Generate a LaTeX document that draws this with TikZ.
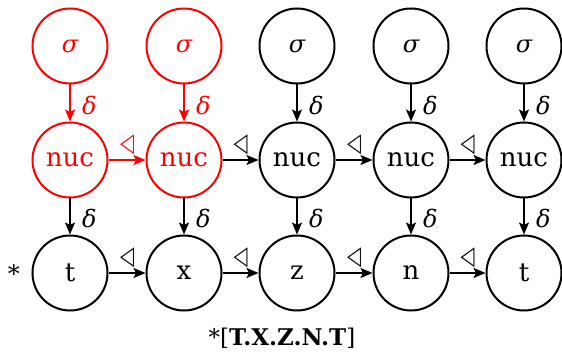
\documentclass[tikz,border=0pt]{standalone}
\usepackage{fontspec}
\setmainfont{DejaVu Serif}
\newfontfamily\symf{DejaVu Sans}
\usetikzlibrary{arrows.meta}
\definecolor{hred}{RGB}{255,0,0}
\newcommand{\tri}{\scalebox{0.7}[1]{\symf ◁}}
\tikzset{
  x=1pt,y=-1pt,
  circ/.style={circle,draw,line width=2pt,minimum size=75pt,inner sep=0pt,font=\fontsize{26}{30}\selectfont},
  sig/.style={font=\fontsize{24}{28}\selectfont\itshape},
  conn/.style={line width=2pt,-{Stealth[length=12pt,width=10pt,inset=2.5pt]}},
  dlab/.style={font=\fontsize{24}{28}\selectfont\itshape,inner sep=0pt,anchor=west,xshift=11pt,yshift=-2pt},
  tlab/.style={font=\fontsize{26}{30}\selectfont,inner sep=0pt,anchor=center,yshift=15pt},
  hl/.style={draw=hred,text=hred}
}
\begin{document}
\begin{tikzpicture}
\useasboundingbox (0,0) rectangle (562,352);
\def\ya{46}\def\yb{160}\def\yc{273}
\node[circ,sig,hl] (s1) at (70,\ya) {σ};
\node[circ,sig,hl] (s2) at (184,\ya) {σ};
\node[circ,sig] (s3) at (297,\ya) {σ};
\node[circ,sig] (s4) at (411,\ya) {σ};
\node[circ,sig] (s5) at (524,\ya) {σ};
\node[circ,hl] (n1) at (70,\yb) {nuc};
\node[circ,hl] (n2) at (184,\yb) {nuc};
\node[circ] (n3) at (297,\yb) {nuc};
\node[circ] (n4) at (411,\yb) {nuc};
\node[circ] (n5) at (524,\yb) {nuc};
\node[circ] (b1) at (70,\yc) {t};
\node[circ] (b2) at (184,\yc) {x};
\node[circ] (b3) at (297,\yc) {z};
\node[circ] (b4) at (411,\yc) {n};
\node[circ] (b5) at (524,\yc) {t};
% vertical arrows sigma -> nuc
\draw[conn,hred] (s1) -- node[dlab,text=hred]{δ} (n1);
\draw[conn,hred] (s2) -- node[dlab,text=hred]{δ} (n2);
\foreach \i in {3,4,5}{
  \draw[conn] (s\i) -- node[dlab]{δ} (n\i);
}
% vertical arrows nuc -> bottom
\foreach \i in {1,...,5}{
  \draw[conn] (n\i) -- node[dlab]{δ} (b\i);
}
% horizontal arrows
\draw[conn,hred] (n1) -- node[tlab,text=hred]{\tri} (n2);
\foreach \i/\j in {2/3,3/4,4/5}{
  \draw[conn] (n\i) -- node[tlab]{\tri} (n\j);
}
\foreach \i/\j in {1/2,2/3,3/4,4/5}{
  \draw[conn] (b\i) -- node[tlab]{\tri} (b\j);
}
\node[font=\fontsize{24}{28}\selectfont,anchor=base,inner sep=0pt] (star) at (14,283) {*};
\node[font=\fontsize{23}{27}\selectfont,anchor=base,inner sep=0pt] (cap) at (282,345) {*[\textbf{T.X.Z.N.T}]};
\end{tikzpicture}
\end{document}
